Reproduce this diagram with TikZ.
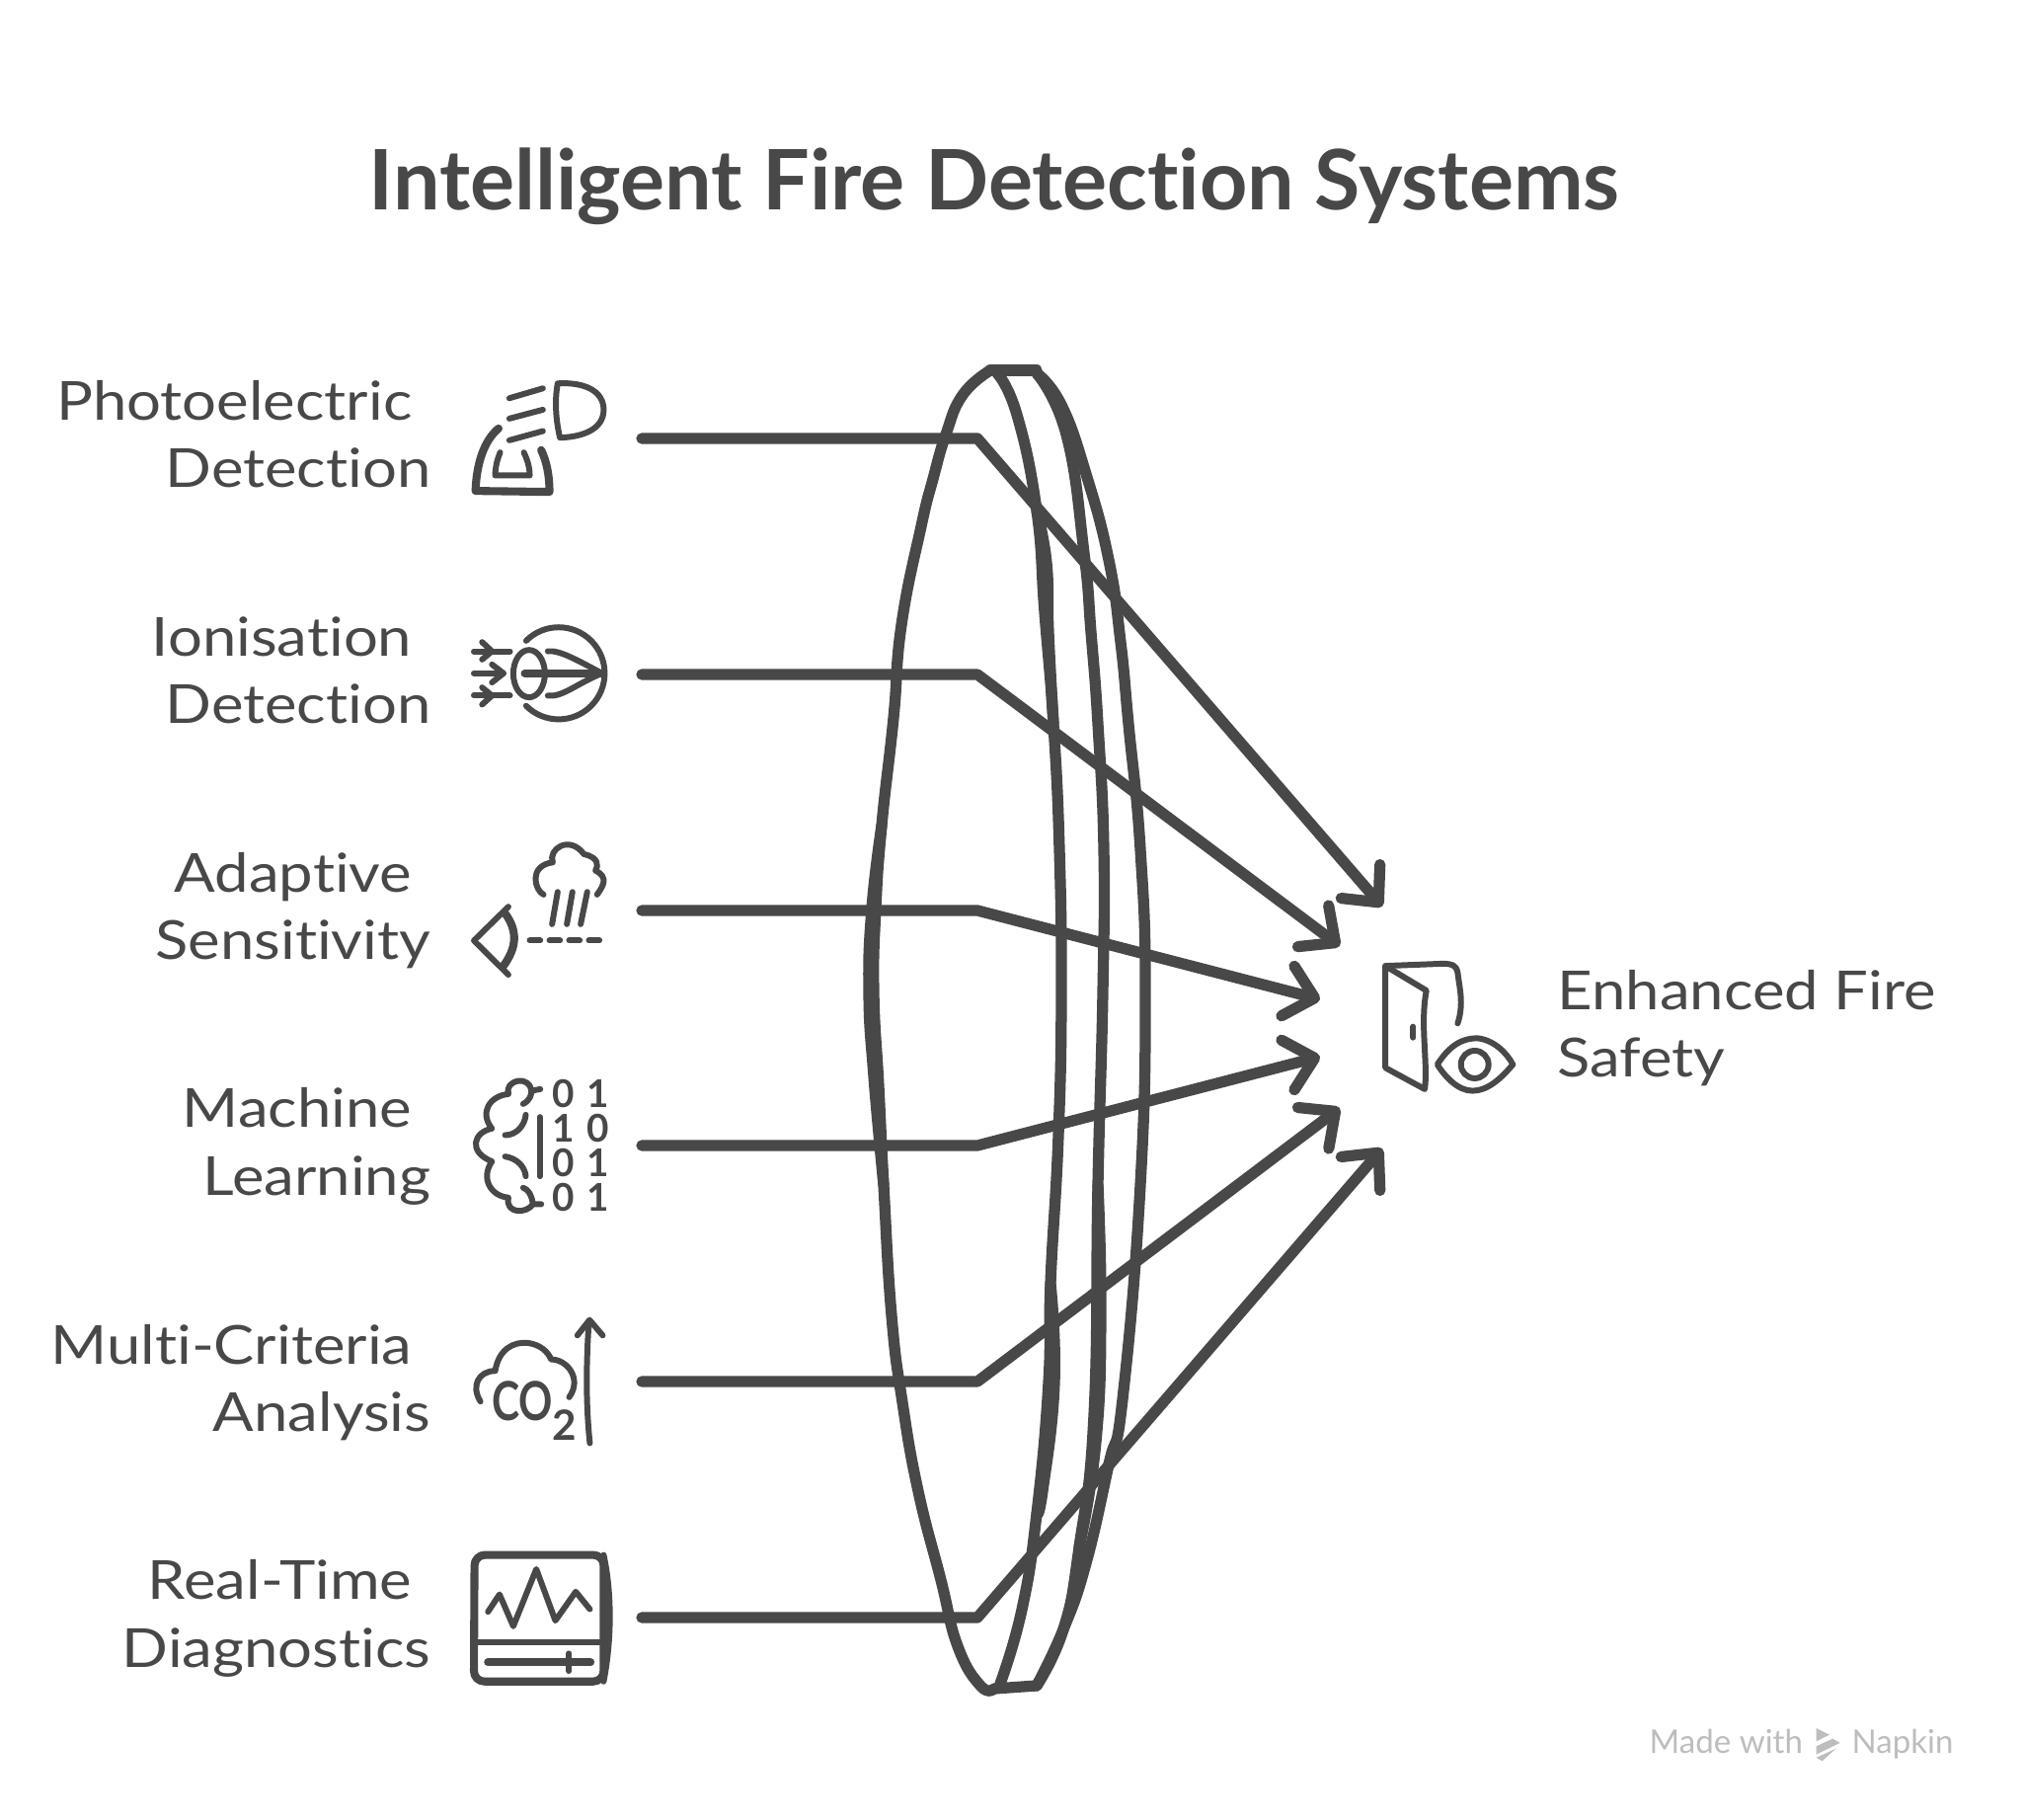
\documentclass[tikz,border=0pt]{standalone}
\usepackage{fontspec}
\setmainfont[Ligatures=CommonOff]{Lato}
\newfontfamily\firewide[FakeStretch=1.13,Ligatures=CommonOff]{Lato}
\newfontfamily\firenarrow[FakeStretch=0.78]{Lato}
\usetikzlibrary{arrows.meta,positioning,calc}
\definecolor{fireInk}{HTML}{484848}
\definecolor{fireMark}{HTML}{BDBDBD}

\begin{document}
\begin{tikzpicture}[x=0.01cm,y=-0.01cm,
    firetitle/.style={text=fireInk,font=\fontsize{24}{28}\selectfont\bfseries},
    firelabel/.style={text=fireInk,font=\firewide\fontsize{15.5}{19.4}\selectfont,align=right,inner sep=0pt},
    firegoal/.style={text=fireInk,font=\firewide\fontsize{15.5}{19.4}\selectfont,align=left,inner sep=0pt},
    firemark/.style={text=fireMark,font=\fontsize{9.4}{10}\selectfont,inner sep=0pt},
    conn/.style={draw=fireInk,line width=3.2pt,line cap=round,line join=round,
                 -{Straight Barb[length=2.8mm,width=5.2mm,round]}},
    ring/.style={draw=fireInk,line width=3.2pt,line cap=round,line join=round},
    icon/.style={draw=fireInk,line width=1.7pt,line cap=round,line join=round},
    iconthick/.style={draw=fireInk,line width=2.3pt,line cap=round,line join=round},
    crop/.style={x=0.003333cm,y=-0.003333cm}]
  \useasboundingbox (0,0) rectangle (2048,1843);

  \node[firetitle] (title) at (1007,189) {Intelligent Fire Detection Systems};

  \node[firelabel,anchor=east] (l1) at (437,440) {Photoelectric\hspace*{0.19cm}\\Detection};
  \node[firelabel,anchor=east] (l2) at (437,679) {Ionisation\hspace*{0.19cm}\\Detection};
  \node[firelabel,anchor=east] (l3) at (437,922) {Adaptive\hspace*{0.19cm}\\Sensitivity};
  \node[firelabel,anchor=east] (l4) at (437,1161) {Machine\hspace*{0.19cm}\\Learning};
  \node[firelabel,anchor=east] (l5) at (437,1400) {Multi-Criteria\hspace*{0.19cm}\\Analysis};
  \node[firelabel,anchor=east] (l6) at (437,1639) {Real-Time\hspace*{0.19cm}\\Diagnostics};
  \node[firegoal,anchor=west] (goal) at (1577,1041) {Enhanced Fire\\Safety};

  \draw[ring] (1003,375) -- (1050,375);
  \draw[ring] (1007,1710) -- (1050,1707);
  \draw[ring] plot[smooth,tension=0.8] coordinates {(1003,375) (975,400) (958,440) (945,485)
    (933,533) (913,633) (905,727) (893,836) (887,920) (885,1005) (890,1100) (895,1200) (903,1332)
    (914,1420) (930,1510) (953,1600) (970,1667) (993,1707) (1007,1710)};
  \draw[ring] plot[smooth,tension=0.8] coordinates {(1010,378) (1030,420) (1050,517) (1058,620)
    (1067,733) (1073,860) (1075,1005) (1072,1150) (1064,1300) (1062,1400) (1050,1533)
    (1035,1630) (1013,1705)};
  \draw[ring] plot[smooth,tension=0.8] coordinates {(1050,378) (1080,440) (1098,560) (1105,640)
    (1112,733) (1118,860) (1117,1005) (1112,1200) (1108,1433) (1093,1567) (1077,1650) (1050,1707)};
  \draw[ring] plot[smooth,tension=0.8] coordinates {(1050,378) (1075,410) (1100,480) (1123,567)
    (1135,650) (1143,733) (1155,860) (1160,1005) (1155,1200) (1137,1417) (1123,1483)
    (1100,1583) (1077,1650) (1050,1707)};
  \draw[ring] plot[smooth,tension=0.8] coordinates {(893,836) (883,920) (880,1005) (885,1090) (895,1200)};
  \draw[ring] plot[smooth,tension=0.8] coordinates {(1050,517) (1060,570) (1062,640) (1067,733)};
  \draw[ring] plot[smooth,tension=0.8] coordinates {(1064,1300) (1068,1400) (1056,1510) (1050,1533)};
  \draw[ring] plot[smooth,tension=0.8] coordinates {(1112,1200) (1115,1330) (1110,1460) (1093,1567)};

  \coordinate (s1) at (650,444);  \coordinate (e1) at (990,444);  \coordinate (t1) at (1400,918);
  \coordinate (s2) at (650,683);  \coordinate (e2) at (990,683);  \coordinate (t2) at (1357,958);
  \coordinate (s3) at (650,922);  \coordinate (e3) at (990,922);  \coordinate (t3) at (1337,1012);
  \coordinate (s4) at (650,1160); \coordinate (e4) at (990,1160); \coordinate (t4) at (1337,1070);
  \coordinate (s5) at (650,1399); \coordinate (e5) at (990,1399); \coordinate (t5) at (1357,1122);
  \coordinate (s6) at (650,1638); \coordinate (e6) at (990,1638); \coordinate (t6) at (1400,1163);
  \draw[conn] (s1) -- (e1) -- (t1);
  \draw[conn] (s2) -- (e2) -- (t2);
  \draw[conn] (s3) -- (e3) -- (t3);
  \draw[conn] (s4) -- (e4) -- (t4);
  \draw[conn] (s5) -- (e5) -- (t5);
  \draw[conn] (s6) -- (e6) -- (t6);

  \begin{scope}[shift={(460,360)},crop]
    \draw[icon] (315,85) .. controls (400,80) and (455,110) .. (455,165)
      .. controls (455,225) and (390,248) .. (322,250) .. controls (310,200) and (305,140) .. cycle;
    \draw[icon] (168,130) -- (270,100);
    \draw[icon] (168,192) -- (270,165);
    \draw[icon] (168,258) -- (270,230);
    \draw[iconthick] (135,222) .. controls (90,260) and (68,330) .. (65,412) -- (290,415)
      .. controls (290,360) and (280,320) .. (265,288);
    \draw[icon] (140,295) .. controls (130,320) and (125,340) .. (125,365) -- (230,365)
      .. controls (230,340) and (222,315) .. (212,295);

    \draw[icon] (60,900) -- (170,900);
    \draw[icon] (85,872) -- (115,900) -- (85,925);
    \draw[icon] (60,967) -- (150,967);
    \draw[icon] (115,940) -- (150,967) -- (115,995);
    \draw[icon] (60,1035) -- (170,1035);
    \draw[icon] (85,1010) -- (115,1035) -- (85,1062);
    \draw[icon] (228,968) ellipse [x radius=48,y radius=72];
    \draw[icon] (219,868) arc [start angle=-135,end angle=135,radius=140];
    \draw[iconthick] (215,967) -- (450,967);
    \draw[icon] (285,900) .. controls (320,895) and (380,930) .. (450,967);
    \draw[icon] (285,1035) .. controls (330,1040) and (370,1000) .. (450,967);
  \end{scope}

  \begin{scope}[shift={(460,840)},crop]
    \draw[icon] (272,198) .. controls (245,185) and (225,110) .. (300,100)
      .. controls (285,60) and (350,15) .. (395,75) .. controls (440,85) and (440,110) .. (430,125)
      .. controls (470,145) and (455,170) .. (435,198);
    \draw[icon] (315,190) -- (298,288);
    \draw[icon] (360,190) -- (343,288);
    \draw[icon] (405,190) -- (385,288);
    \draw[icon] (230,338) -- (262,338);
    \draw[icon] (290,338) -- (322,338);
    \draw[icon] (350,338) -- (382,338);
    \draw[icon] (410,338) -- (442,338);
    \draw[icon] (165,235) -- (60,338) -- (165,442);
    \draw[iconthick] (155,255) .. controls (195,310) and (190,360) .. (150,415);

    \draw[icon] (262,790) -- (235,795);
    \draw[icon] (210,835) .. controls (250,815) and (240,760) .. (195,765)
      .. controls (170,770) and (160,785) .. (165,805) .. controls (110,810) and (75,860) .. (115,910)
      .. controls (60,920) and (40,980) .. (115,1010) .. controls (80,1060) and (110,1115) .. (165,1120)
      .. controls (155,1170) and (220,1170) .. (240,1140) -- (265,1140);
    \draw[icon] (240,1140) .. controls (235,1110) and (225,1095) .. (210,1090);
    \draw[icon] (155,930) .. controls (190,930) and (215,900) .. (218,868);
    \draw[icon] (155,995) .. controls (190,1000) and (215,1025) .. (218,1055);
    \draw[icon] (260,875) -- (260,1055);
    \node[text=fireInk,font=\fontsize{11}{9.95}\selectfont\bfseries,align=center,inner sep=0pt]
      (bits) at (386,962) {0\hspace{0.13cm}1\\1\hspace{0.13cm}0\\0\hspace{0.13cm}1\\0\hspace{0.13cm}1};
  \end{scope}

  \begin{scope}[shift={(460,1320)},crop]
    \draw[icon] (80,298) .. controls (50,250) and (75,205) .. (125,205)
      .. controls (135,140) and (180,115) .. (225,120) .. controls (260,125) and (285,145) .. (295,170)
      .. controls (345,170) and (390,230) .. (350,285);
    \node[text=fireInk,font=\firenarrow\fontsize{15.5}{15}\selectfont\bfseries,inner sep=0pt] (co) at (208,298) {CO};
    \node[text=fireInk,font=\fontsize{12}{12}\selectfont\bfseries,inner sep=0pt] (sub) at (335,370) {2};
    \draw[icon] (413,425) .. controls (400,300) and (402,180) .. (410,55);
    \draw[icon] (375,97) -- (412,50) -- (452,97);

    \draw[iconthick,rounded corners=3pt] (62,765) -- (455,765) -- (455,1150) -- (60,1150) -- cycle;
    \draw[icon] (455,765) .. controls (480,880) and (480,1020) .. (455,1150);
    \draw[icon] (62,1032) -- (455,1032);
    \draw[icon] (103,938) -- (138,885) -- (180,982) -- (250,808) -- (308,965) -- (370,877) -- (413,930);
    \draw[iconthick] (103,1092) -- (415,1092);
    \draw[icon] (350,1065) -- (350,1118);
  \end{scope}

  \begin{scope}[shift={(1300,850)},crop]
    \draw[icon] (530,560) .. controls (550,500) and (535,450) .. (530,405)
      .. controls (525,380) and (510,380) .. (490,378) -- (310,385);
    \draw[icon] (310,385) -- (435,460) .. controls (415,560) and (440,680) .. (430,760)
      -- (310,695) -- cycle;
    \draw[icon] (395,570) -- (395,603);
    \draw[icon] (468,685) .. controls (510,620) and (550,605) .. (590,605)
      .. controls (640,610) and (680,650) .. (698,685) .. controls (660,730) and (620,765) .. (575,765)
      .. controls (530,765) and (490,720) .. cycle;
    \draw[icon] (582,685) circle [radius=42];
  \end{scope}

  \node[firemark,anchor=base west] (made) at (1670,1775) {Made with};
  \node[firemark,anchor=base west] (napkin) at (1875,1775) {Napkin};
  \begin{scope}[shift={(1640,1730)},crop]
    \fill[fireMark] (600,60) -- (640,80) -- (600,100) -- cycle;
    \fill[fireMark] (600,115) -- (650,92) -- (672,105) -- (600,140) -- cycle;
    \fill[fireMark] (600,150) -- (660,122) -- (618,160) -- cycle;
  \end{scope}
\end{tikzpicture}
\end{document}
